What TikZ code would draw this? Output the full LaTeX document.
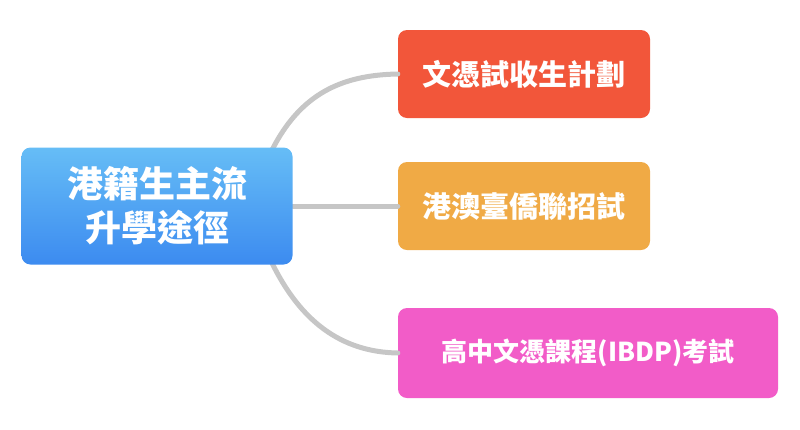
\documentclass[tikz,border=0pt]{standalone}
\usepackage{fontspec}
\newfontfamily\cjk{Noto Sans CJK TC}
\begin{document}
\begin{tikzpicture}[x=1pt,y=-1pt,
 box/.style={rounded corners=9pt,inner sep=0pt,text=white,font=\cjk\bfseries},
 conn/.style={draw=gray!45,line width=5pt,line cap=round}]
\useasboundingbox (0,0) rectangle (800,429);
\definecolor{c1}{HTML}{F2563A}\definecolor{c2}{HTML}{F0AA45}\definecolor{c3}{HTML}{F25CC8}
\definecolor{bt}{HTML}{66BDF6}\definecolor{bb}{HTML}{3C8BF0}
\coordinate (s1) at (272,150);
\coordinate (s3) at (272,263);
\node[box,fill=c1,minimum width=252pt,minimum height=88pt,font=\cjk\bfseries\fontsize{29}{32}\selectfont] (n1) at (524,74) {文憑試收生計劃};
\node[box,fill=c2,minimum width=252pt,minimum height=88pt,font=\cjk\bfseries\fontsize{29}{32}\selectfont] (n2) at (524,206) {港澳臺僑聯招試};
\node[box,fill=c3,minimum width=380pt,minimum height=90pt,font=\cjk\bfseries\fontsize{26}{30}\selectfont] (n3) at (588,353) {高中文憑課程(IBDP)考試};
\draw[conn] (s1) .. controls (300,95) and (340,75) .. (n1.west);
\draw[conn] (s3) .. controls (300,320) and (340,352) .. (n3.west);
\draw[conn] (293,206) -- (n2.west);
\node[box,top color=bt,bottom color=bb,minimum width=271pt,minimum height=117pt,align=center,font=\cjk\bfseries\fontsize{36}{44}\selectfont] (c) at (157,206) {港籍生主流\\升學途徑};
\end{tikzpicture}
\end{document}
